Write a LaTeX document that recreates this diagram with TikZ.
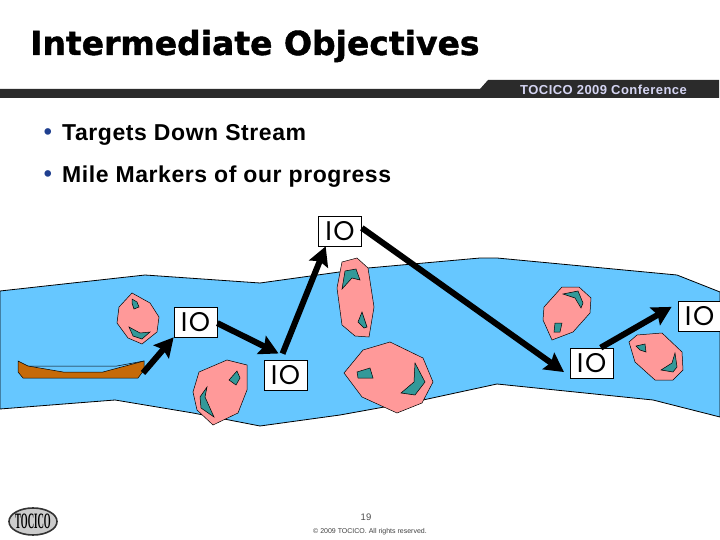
\documentclass[tikz,border=0pt]{standalone}
\usepackage{fontspec}
\setmainfont{Liberation Sans}
\newfontfamily\titlefont[BoldFont={DejaVu Sans Bold},BoldFeatures={FakeBold=1.3}]{DejaVu Sans}
\newfontfamily\iofont[LetterSpace=6]{Poppins}
\newfontfamily\bodyfont[LetterSpace=2.5]{Liberation Sans}
\newfontfamily\bannerfont[LetterSpace=3.5]{Liberation Sans}
\newfontfamily\logofont{Liberation Serif}
\usetikzlibrary{arrows.meta,shapes.geometric}
\definecolor{riverblue}{HTML}{66C7FF}
\definecolor{rockpink}{HTML}{FF9999}
\definecolor{rockteal}{HTML}{339999}
\definecolor{boatbrown}{HTML}{C66A08}
\definecolor{bannergray}{HTML}{2B2B2B}
\definecolor{bannertext}{HTML}{D4D4F2}
\definecolor{bulletblue}{HTML}{1F3F8F}
\tikzset{
  river/.style={draw=black,fill=riverblue,line width=0.8pt},
  rock/.style={draw=black,fill=rockpink,line width=0.5pt},
  weed/.style={draw=black,fill=rockteal,line width=0.5pt},
  iobox/.style={draw=black,fill=white,line width=0.7pt,minimum width=43pt,minimum height=30pt,
    inner sep=0pt,font=\iofont\fontsize{27}{27}\selectfont},
  flowarrow/.style={line width=6pt,-{Stealth[length=19pt,width=20pt,inset=3pt]}},
  bullettext/.style={anchor=west,inner sep=0pt,font=\bodyfont\fontsize{23}{23}\selectfont\bfseries},
  bulletdot/.style={inner sep=0pt,text=bulletblue,font=\fontsize{23}{23}\selectfont\bfseries},
}
\begin{document}
\begin{tikzpicture}[x=1pt,y=-1pt]
  \useasboundingbox (0,0) rectangle (720,540);
  % heading
  \node[anchor=west,inner sep=0pt,font=\titlefont\fontsize{33}{33}\selectfont\bfseries] (title) at (30,46) {Intermediate Objectives};
  \fill[bannergray] (0,89) -- (480,89) -- (488,80) -- (719,80) -- (719,98) -- (0,98) -- cycle;
  \node[anchor=west,inner sep=0pt,text=bannertext,font=\bannerfont\fontsize{13}{13}\selectfont\bfseries] (banner) at (520,89.5) {TOCICO 2009 Conference};
  \node[bulletdot] (dot1) at (48,134) {•};
  \node[bullettext] (line1) at (62,135) {Targets Down Stream};
  \node[bulletdot] (dot2) at (48,176) {•};
  \node[bullettext] (line2) at (62,177) {Mile Markers of our progress};
  % river
  \draw[river] (0,291) -- (145,275) -- (260,283) -- (368,268) -- (480,258) -- (497,258) -- (677,275) -- (720,292)
    -- (720,417) -- (653,400) -- (497,384) -- (423,400) -- (340,415) -- (260,426) -- (193,413) -- (115,400) -- (0,409) -- cycle;
  % rocks
  \draw[rock] (132,293) -- (150,303) -- (159,317) -- (157,332) -- (142,344) -- (128,338) -- (117,323) -- (119,307) -- cycle;
  \draw[weed] (132,299) -- (137,302) -- (139,307) -- (134,309) -- (132,303) -- cycle;
  \draw[weed] (129,327) -- (140,333) -- (150,332) -- (142,339) -- (133,336) -- cycle;
  \draw[rock] (227,360) -- (247,365) -- (247,390) -- (238,413) -- (213,425) -- (197,410) -- (193,392) -- (199,372) -- cycle;
  \draw[weed] (237,371) -- (240,378) -- (236,385) -- (229,380) -- cycle;
  \draw[weed] (207,387) -- (205,397) -- (214,417) -- (201,408) -- (200,397) -- cycle;
  \draw[rock] (357,258) -- (368,268) -- (374,307) -- (369,337) -- (355,336) -- (342,325) -- (337,288) -- (342,262) -- cycle;
  \draw[weed] (345,271) -- (356,269) -- (360,280) -- (352,278) -- (342,289) -- cycle;
  \draw[weed] (362,312) -- (367,327) -- (364,328) -- (358,322) -- cycle;
  \draw[rock] (390,342) -- (423,358) -- (433,382) -- (422,403) -- (397,413) -- (362,397) -- (344,373) -- (363,350) -- cycle;
  \draw[weed] (357,372) -- (370,368) -- (373,378) -- (358,378) -- cycle;
  \draw[weed] (415,363) -- (425,382) -- (415,395) -- (401,393) -- (414,382) -- cycle;
  \draw[rock] (562,287) -- (579,287) -- (591,298) -- (590,313) -- (573,332) -- (552,340) -- (543,320) -- (544,307) -- cycle;
  \draw[weed] (563,294) -- (578,291) -- (583,303) -- (581,308) -- (575,298) -- cycle;
  \draw[weed] (555,323) -- (562,323) -- (560,332) -- (554,332) -- cycle;
  \draw[rock] (637,335) -- (662,333) -- (682,352) -- (683,370) -- (673,380) -- (655,380) -- (635,362) -- (629,342) -- cycle;
  \draw[weed] (636,346) -- (645,344) -- (646,352) -- (640,350) -- cycle;
  \draw[weed] (675,353) -- (677,367) -- (673,372) -- (661,370) -- (672,363) -- cycle;
  % boat
  \draw[line width=0.5pt] (28,366) -- (117,366) -- (144,361);
  \draw[line width=0.5pt,fill=boatbrown] (18,361) -- (28,366) -- (63,372) -- (103,372) -- (144,361) -- (144,370) -- (138,378) -- (23,378) -- (18,372) -- cycle;
  \coordinate (boatbow) at (143,373);
  % markers
  \node[iobox] (top) at (340,231) {IO};
  \node[iobox] (first) at (195.5,322) {IO};
  \node[iobox] (second) at (285.5,375.5) {IO};
  \node[iobox] (third) at (591.5,363) {IO};
  \node[iobox] (last) at (699.5,316) {IO};
  % legs
  \draw[flowarrow] (boatbow) -- (first.south west);
  \draw[flowarrow,shorten >=15pt] (first.-3) -- (second.67);
  \draw[flowarrow,shorten <=7pt] (second.110) -- (top.227);
  \draw[flowarrow,shorten >=7pt] (top.8) -- (third.211);
  \draw[flowarrow,shorten >=7pt] (third.59) -- (last.150);
  % footer
  \node[draw=black!80,line width=1.6pt,fill=gray!40,ellipse,minimum width=48pt,minimum height=27pt,inner sep=0pt] (logo) at (33,521.5) {};
  \node[inner sep=0pt,xscale=0.8,yscale=2,font=\logofont\fontsize{11}{11}\selectfont\bfseries] (logotext) at (33,521.5) {TOCICO};
  \node[inner sep=0pt,text=black!70,font=\fontsize{9.5}{9.5}\selectfont] (page) at (366,517) {19};
  \node[inner sep=0pt,text=black!75,font=\fontsize{7}{7}\selectfont] (copy) at (370,532) {© 2009 TOCICO. All rights reserved.};
\end{tikzpicture}
\end{document}
